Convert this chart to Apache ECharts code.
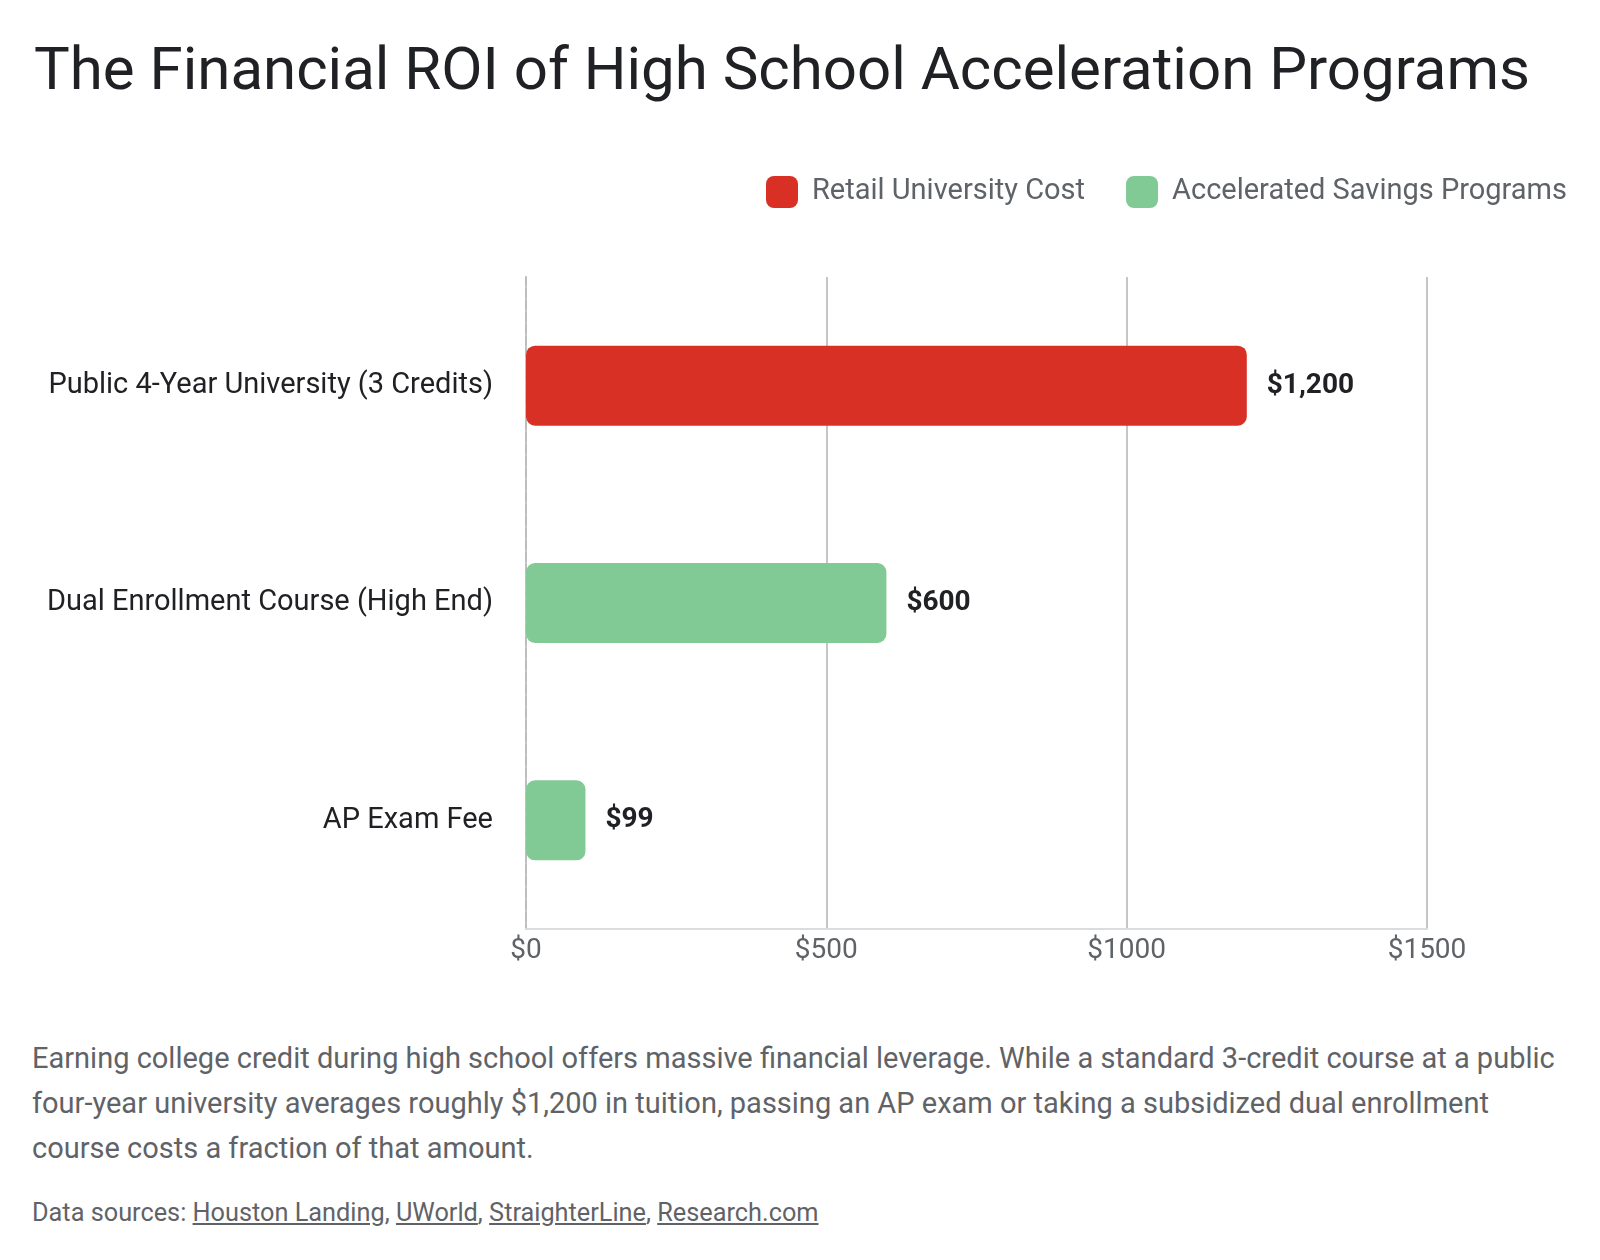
<!DOCTYPE html>
<html>
<head>
<meta charset="utf-8">
<script src="https://cdn.jsdelivr.net/npm/echarts@6/dist/echarts.min.js"></script>
<style>
  html, body { margin: 0; padding: 0; background: #fff; }
  body { width: 1600px; height: 1260px; position: relative; overflow: hidden; font-family: Roboto, "Noto Sans", sans-serif; }
  #title { position: absolute; left: 34px; top: 33px; font-size: 60px; color: #202124; font-weight: 400; white-space: nowrap; }
  #chart { position: absolute; left: 0; top: 0; width: 1600px; height: 1000px; }
  #desc { position: absolute; left: 32px; top: 1036px; width: 1545px; font-size: 29px; line-height: 45px; color: #5f6368; }
  #src { position: absolute; left: 32px; top: 1198px; font-size: 25.3px; color: #5f6368; white-space: nowrap; }
  #src a { color: #5f6368; text-decoration: underline; }
</style>
</head>
<body>
<div id="title">The Financial ROI of High School Acceleration Programs</div>
<div id="chart"></div>
<div id="desc">Earning college credit during high school offers massive financial leverage. While a standard 3-credit course at a public four-year university averages roughly $1,200 in tuition, passing an AP exam or taking a subsidized dual enrollment course costs a fraction of that amount.</div>
<div id="src">Data sources: <a>Houston Landing</a>, <a>UWorld</a>, <a>StraighterLine</a>, <a>Research.com</a></div>
<script>
const categories = ["Public 4-Year University (3 Credits)", "Dual Enrollment Course (High End)", "AP Exam Fee"];
const retailValues = [1200, '-', '-'];
const savingsValues = ['-', 600, 99];
const seriesNames = ["Retail University Cost", "Accelerated Savings Programs"];
const xTicks = { min: 0, max: 1500, interval: 500 };

const chart = echarts.init(document.getElementById('chart'), null, { renderer: 'canvas' });
const fmtMoney = v => '$' + Number(v).toLocaleString('en-US');
const labelCfg = {
  show: true, position: 'right', distance: 20,
  fontSize: 28, fontWeight: 'bold', color: '#202124', fontFamily: 'Roboto',
  formatter: p => fmtMoney(p.value)
};
chart.setOption({
  animation: false,
  textStyle: { fontFamily: 'Roboto' },
  legend: {
    top: 171, right: 28,
    itemWidth: 32, itemHeight: 32, itemGap: 41,
    icon: 'roundRect',
    textStyle: { fontSize: 29, color: '#5f6368', padding: [0, 0, 0, 9] },
    data: seriesNames
  },
  grid: { left: 526, right: 173, top: 277, bottom: 71, containLabel: false },
  xAxis: {
    type: 'value', min: xTicks.min, max: xTicks.max, interval: xTicks.interval,
    axisLine: { show: true, lineStyle: { color: '#dadce0', width: 2 } },
    axisTick: { show: false },
    splitLine: { show: true, lineStyle: { color: '#c6c6c6', width: 2 } },
    axisLabel: { formatter: v => '$' + v, fontSize: 28, color: '#5f6368', margin: 8 }
  },
  yAxis: {
    type: 'category', data: categories, inverse: true,
    axisLine: { show: true, lineStyle: { color: '#bdbdbd', width: 2, type: 'dashed' } },
    axisTick: { show: false },
    axisLabel: { fontSize: 29, color: '#202124', margin: 33 }
  },
  series: [
    { name: seriesNames[0], type: 'bar', stack: 'c', data: retailValues, barWidth: 80,
      itemStyle: { color: '#d93025', borderRadius: 9 }, label: labelCfg },
    { name: seriesNames[1], type: 'bar', stack: 'c', data: savingsValues, barWidth: 80,
      itemStyle: { color: '#81c995', borderRadius: 9 }, label: labelCfg }
  ]
});
</script>
</body>
</html>
